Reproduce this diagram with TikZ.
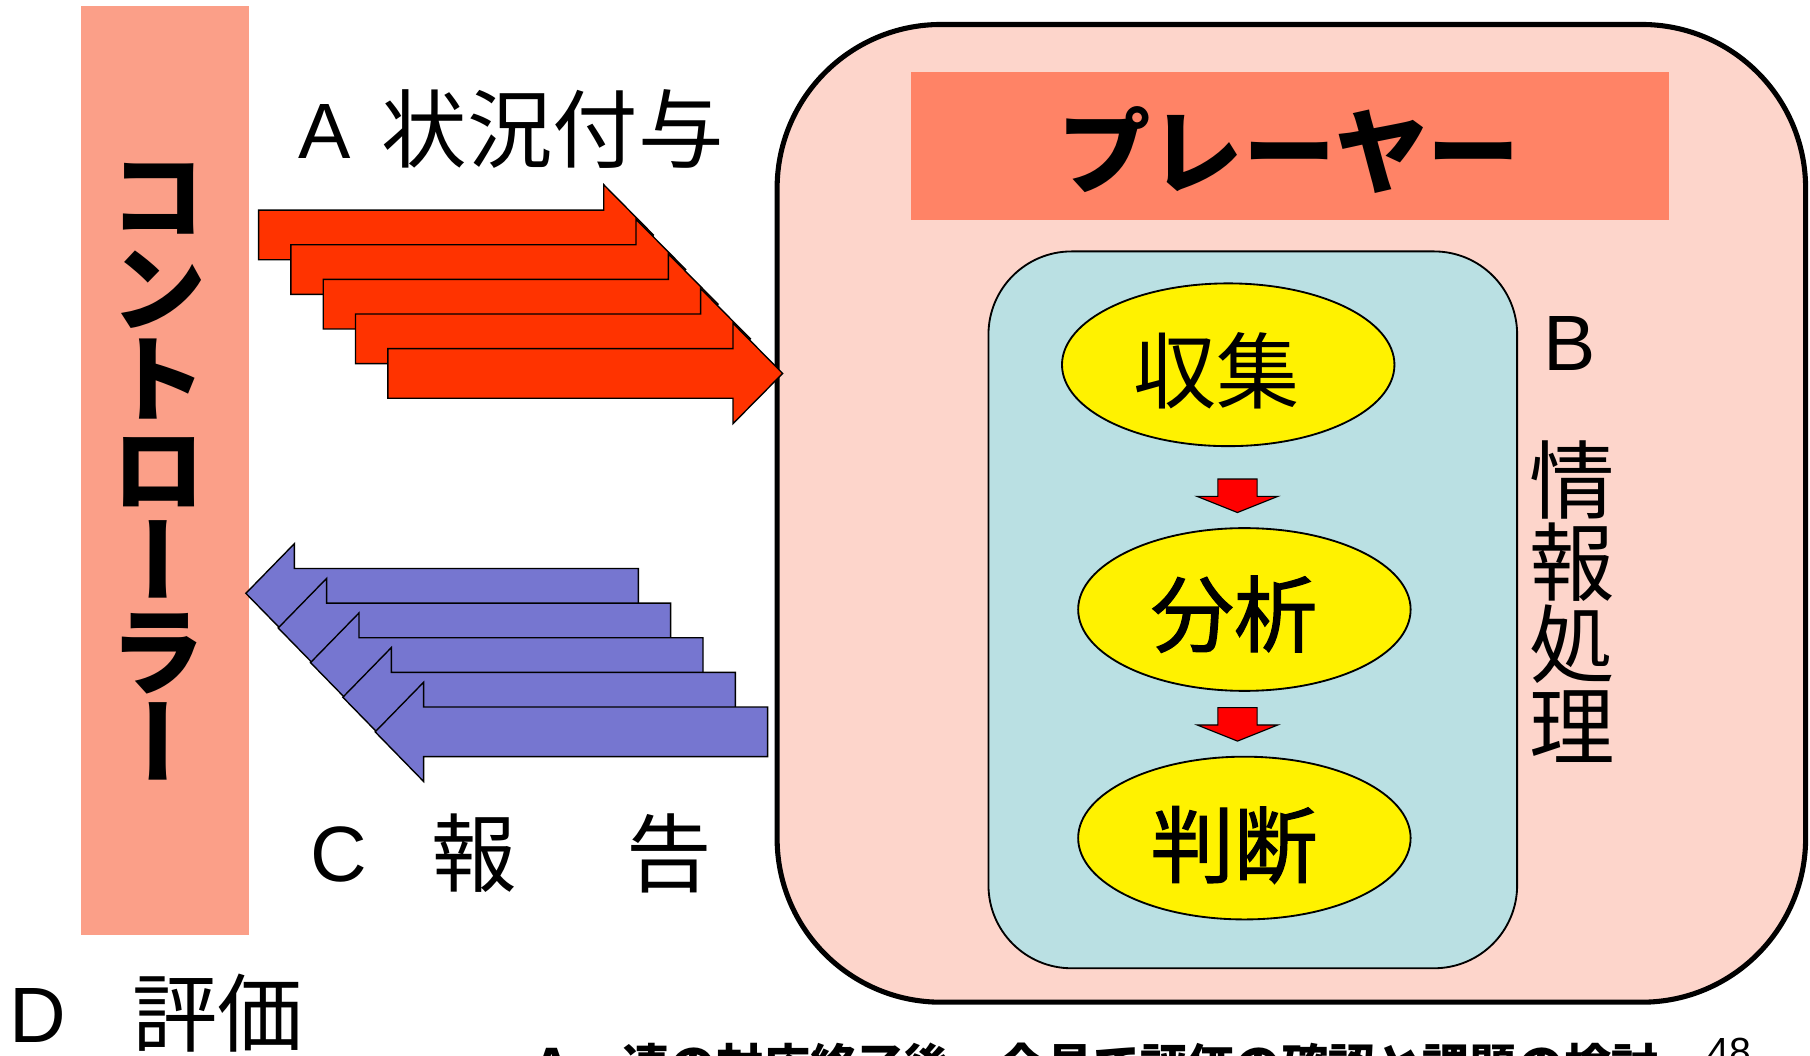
\documentclass[tikz,border=0pt]{standalone}
\usepackage{fontspec}
\setmainfont{Noto Sans CJK JP}
\newfontfamily\jp{Noto Sans CJK JP}
\newfontfamily\jpmed[FakeBold=1.6]{Noto Sans CJK JP}
\newfontfamily\jpv[RawFeature=+vert]{Noto Sans CJK JP}
\newfontfamily\lat{Liberation Sans}
\usetikzlibrary{shapes.geometric,calc}
\definecolor{ctrlfill}{RGB}{251,159,136}
\definecolor{plbg}{RGB}{253,213,203}
\definecolor{plhead}{RGB}{255,131,102}
\definecolor{procbg}{RGB}{186,224,227}
\definecolor{redarr}{RGB}{255,51,0}
\definecolor{bluearr}{RGB}{118,118,208}
\definecolor{smallred}{RGB}{255,0,0}
\tikzset{
  redarrow/.style={draw=black, line width=0.6pt, fill=redarr, line join=miter},
  bluearrow/.style={draw=black, line width=0.6pt, fill=bluearr, line join=miter},
  smallarrow/.style={draw=black, line width=0.5pt, fill=smallred, line join=miter},
  ell/.style={ellipse, draw=black, line width=0.8pt, fill=yellow, minimum width=144pt, minimum height=70.5pt, inner sep=0pt},
  latfont/.style={font=\lat\fontsize{34}{34}\selectfont},
  lbl/.style={inner sep=0pt, anchor=west},
}
\newcommand{\latA}[1]{{\lat\fontsize{34}{34}\selectfont\raisebox{1.5pt}{#1}}}
\newcommand{\jpL}[1]{{\jp\fontsize{37}{37}\selectfont #1}}
\begin{document}
\begin{tikzpicture}[x=0.5pt,y=-0.5pt]
\useasboundingbox (0,0) rectangle (1568,914.8);

% controller bar
\node[fill=ctrlfill, minimum width=72.5pt, minimum height=402.5pt, anchor=north west, inner sep=0pt] (ctrl) at (70,5) {};
\node[align=center, inner sep=0pt, font=\jpv\bfseries\fontsize{42}{39.5}\selectfont] (ctrltext) at (138,409) {コ\\ン\\ト\\ロ\\ー\\ラ\\ー};

% player box
\node[draw=black, line width=2.2pt, fill=plbg, rounded corners=71pt, minimum width=445.5pt, minimum height=423.5pt, anchor=north west, inner sep=0pt] (player) at (671,19) {};
\node[fill=plhead, minimum width=328pt, minimum height=64pt, anchor=north west, inner sep=0pt] (plhead) at (789,62) {};
\node[inner sep=0pt, font=\jp\bfseries\fontsize{40}{40}\selectfont] (pltext) at (1117,130) {プレーヤー};

% process box
\node[draw=black, line width=0.8pt, fill=procbg, rounded corners=36pt, minimum width=229pt, minimum height=310.5pt, anchor=north west, inner sep=0pt] (proc) at (855.5,217) {};

\node[ell] (col) at (1064,316) {};
\node[inner sep=0pt, font=\jp\fontsize{36}{36}\selectfont] (coltext) at (1054,321) {収集};
\node[ell] (ana) at (1078,528) {};
\node[inner sep=0pt, font=\jpmed\fontsize{36}{36}\selectfont] (anatext) at (1069,532) {分析};
\node[ell] (jud) at (1078,726) {};
\node[inner sep=0pt, font=\jpmed\fontsize{36}{36}\selectfont] (judtext) at (1069,732) {判断};

% small down arrows
\foreach \dy in {0,198}{
  \draw[smallarrow] (1055,415+\dy) -- (1089,415+\dy) -- (1089,430+\dy) -- (1107,430+\dy) -- (1072,444+\dy) -- (1037,430+\dy) -- (1055,430+\dy) -- cycle;
}

% B info processing
\node[inner sep=0pt, latfont] (blabel) at (1360,298) {B};
\node[align=center, inner sep=0pt, font=\jp\fontsize{37}{35.5}\selectfont] (btext) at (1362,521.5) {情\\報\\処\\理};

% red arrows (A)
\foreach \i in {0,...,4}{
  \begin{scope}[shift={({28*\i},{30*\i})}]
    \draw[redarrow] (224,182) -- (523,182) -- (523,160) -- (566,203.5) -- (523,247) -- (523,225) -- (224,225) -- cycle;
  \end{scope}
}
% blue arrows (C)
\foreach \i in {0,...,4}{
  \begin{scope}[shift={({28*\i},{30*\i})}]
    \draw[bluearrow] (213,514) -- (255,471) -- (255,492.5) -- (553,492.5) -- (553,535.5) -- (255,535.5) -- (255,557) -- cycle;
  \end{scope}
}

% labels
\node[lbl] (alabel) at (258,112) {\latA{A}\hspace{13.5pt}\jpL{状況付与}};
\node[lbl] (clabel) at (268.6,739) {\latA{C}\hspace{28pt}\jpL{報}\hspace{47.5pt}\jpL{告}};
\node[lbl] (dlabel) at (7.6,878) {\latA{D}\hspace{28.7pt}\jpL{評価}};

% bottom line (cut by page edge, as in the reference)
\node[anchor=base west, inner sep=0pt, font=\jp\bfseries\fontsize{20.4}{20.4}\selectfont] (bottom) at (457,939) {Ａ一連の対応終了後、全員で評価の確認と課題の検討};
\node[anchor=base west, inner sep=0pt, font=\lat\fontsize{17}{17}\selectfont] (pagenum) at (1479,923) {48};
\end{tikzpicture}
\end{document}
